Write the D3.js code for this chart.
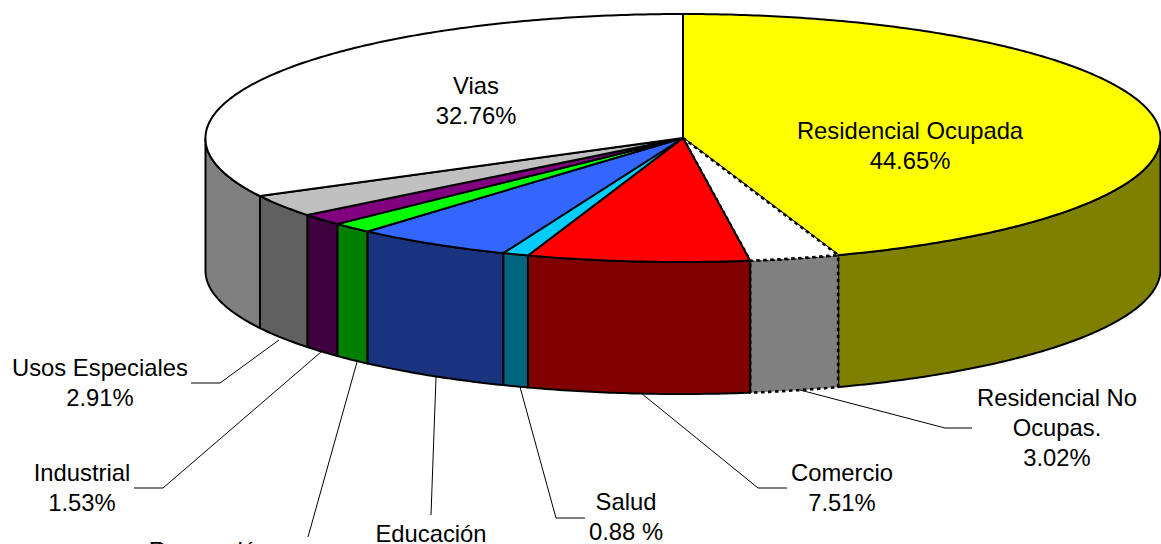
<!DOCTYPE html>
<html>
<head>
<meta charset="utf-8">
<script src="https://cdn.jsdelivr.net/npm/d3@7/dist/d3.min.js"></script>
<style>
html,body{margin:0;padding:0;background:#fff;overflow:hidden}
svg{display:block}
text{font-family:"Liberation Sans",Arial,sans-serif;font-size:23.8px;fill:#000;text-anchor:middle}
</style>
</head>
<body>
<svg id="c" width="1161" height="544"></svg>
<script>
const categories = ["Residencial Ocupada","Residencial No Ocupas.","Comercio","Salud","Educación","Recreación","Industrial","Usos Especiales","Vias"];
const values = [44.65,3.02,7.51,0.88,5.35,1.39,1.53,2.91,32.76];
const topColors = ["#ffff00","#ffffff","#ff0000","#00ccff","#3366ff","#00ff00","#800080","#c0c0c0","#ffffff"];
const sideColors = ["#808000","#808080","#800000","#006680","#1a337f","#008000","#40003f","#606060","#808080"];
const dotted = [false,true,false,false,false,false,false,false,false];

// label lines and their anchor positions
const labelLines = [
  ["Residencial Ocupada","44.65%"],["Residencial No","Ocupas.","3.02%"],["Comercio","7.51%"],["Salud","0.88 %"],
  ["Educación"],["Recreación"],["Industrial","1.53%"],["Usos Especiales","2.91%"],["Vias","32.76%"]
];
const labelAnchors = [[910,139],[1057,406],[842,481],[626,510],[431,542],[209,559],[82,481],[100,376],[476,94]];
const leaders = [
  null,
  [[972,428],[945,428],[800,390]],
  [[787,488],[758,488],[641,393]],
  [[585,518],[556,518],[520,387]],
  [[431,515],[436,377]],
  [[308,537],[357,362]],
  [[134,488],[163,488],[321,352]],
  [[191,383],[220,383],[279,340]],
  null
];

const cx = 683, cy = 138, rx = 477.5, ry = 124, depth = 132, frontSkew = 2.5;
const svg = d3.select("#c");
const arcs = d3.pie().sort(null).value(d => d).startAngle(0).endAngle(2*Math.PI)(values);
const X = d3.scaleLinear().domain([-1,1]).range([cx-rx,cx+rx]);
const Y = d3.scaleLinear().domain([-1,1]).range([cy-ry,cy+ry]);
const line = d3.line();
const pt = (a,dz=0) => {
  const c = -Math.cos(a);
  return [X(Math.sin(a)) - frontSkew*Math.max(0,c), Y(c)+dz];
};
const samples = (a0,a1) => {
  const n = Math.max(2,Math.ceil((a1-a0)/0.01));
  return d3.range(n+1).map(i => a0+(a1-a0)*i/n);
};

// sides
arcs.forEach((d,i) => {
  const a0 = Math.max(d.startAngle,Math.PI/2), a1 = Math.min(d.endAngle,3*Math.PI/2);
  if (a1<=a0) return;
  const s = samples(a0,a1);
  const pts = s.map(a=>pt(a)).concat(s.slice().reverse().map(a=>pt(a,depth)));
  svg.append("path").attr("d",line(pts)+"Z").attr("fill",sideColors[i])
    .attr("stroke","#000").attr("stroke-width",dotted[i]?2.6:2).attr("stroke-linejoin","round")
    .attr("stroke-dasharray",dotted[i]?"3.5,3.5":null);
});
// tops
arcs.forEach((d,i) => {
  const pts = [[X(0),Y(0)]].concat(samples(d.startAngle,d.endAngle).map(a=>pt(a)));
  svg.append("path").attr("d",line(pts)+"Z").attr("fill",topColors[i])
    .attr("stroke","#000").attr("stroke-width",dotted[i]?2.6:2).attr("stroke-linejoin","round")
    .attr("stroke-dasharray",dotted[i]?"3.5,3.5":null);
});
// leaders
leaders.forEach(l => {
  if (l) svg.append("path").attr("d",line(l)).attr("fill","none").attr("stroke","#000").attr("stroke-width",1);
});
// labels
labelLines.forEach((ls,i) => {
  const t = svg.append("text").attr("x",labelAnchors[i][0]).attr("y",labelAnchors[i][1]).attr("aria-label",categories[i]);
  ls.forEach((s,j) => t.append("tspan").attr("x",labelAnchors[i][0]).attr("dy",j?30:0).text(s));
});
</script>
</body>
</html>
